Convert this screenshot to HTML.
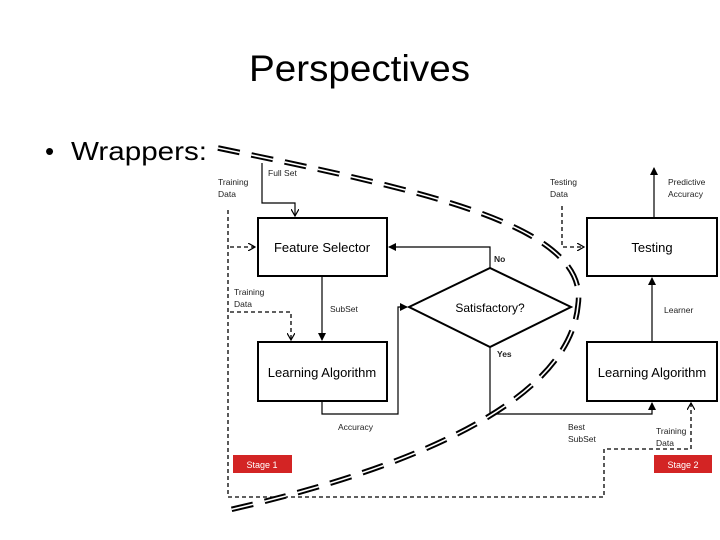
<!DOCTYPE html>
<html><head><meta charset="utf-8"><style>
html,body{margin:0;padding:0;background:#fff;}
svg{display:block;font-family:"Liberation Sans",sans-serif;}
</style></head><body>
<svg width="720" height="540" viewBox="0 0 720 540" xmlns="http://www.w3.org/2000/svg">
<defs>
<marker id="a" markerWidth="8" markerHeight="8" refX="7" refY="4" orient="auto" markerUnits="userSpaceOnUse">
<path d="M0,0 L8,4 L0,8 z" fill="#000"/></marker>
<marker id="o" markerWidth="8" markerHeight="8" refX="7" refY="4" orient="auto" markerUnits="userSpaceOnUse">
<path d="M0,0 L7,4 L0,8" fill="none" stroke="#000" stroke-width="1.2"/></marker>
</defs>
<text x="249" y="81" font-size="37" textLength="221" lengthAdjust="spacingAndGlyphs">Perspectives</text>
<text x="45" y="160" font-size="26">•</text>
<text x="71" y="160" font-size="26" textLength="136" lengthAdjust="spacingAndGlyphs">Wrappers:</text>

<!-- boxes -->
<g fill="#fff" stroke="#000" stroke-width="2">
<rect x="258" y="218" width="129" height="58"/>
<rect x="258" y="342" width="129" height="59"/>
<rect x="587" y="218" width="130" height="58"/>
<rect x="587" y="342" width="130" height="59"/>
<polygon points="409,307 490,268 571,307 490,347"/>
</g>
<g font-size="13" text-anchor="middle">
<text x="322" y="252">Feature Selector</text>
<text x="322" y="377">Learning Algorithm</text>
<text x="652" y="252">Testing</text>
<text x="652" y="377">Learning Algorithm</text>
<text x="490" y="312" font-size="12">Satisfactory?</text>
</g>

<!-- solid connectors -->
<g fill="none" stroke="#000" stroke-width="1.2">
<path d="M262,163 V203 H295 V216" marker-end="url(#o)"/>
<path d="M322,276 V340" marker-end="url(#a)"/>
<path d="M322,401 V414 H398 V307 H407" marker-end="url(#a)"/>
<path d="M490,268 V247 H389" marker-end="url(#a)"/>
<path d="M490,347 V414 H652 V403" marker-end="url(#a)"/>
<path d="M652,342 V278" marker-end="url(#a)"/>
<path d="M654,218 V168" marker-end="url(#a)"/>
</g>
<!-- dashed connectors -->
<g fill="none" stroke="#000" stroke-width="1.3" stroke-dasharray="4,3">
<path d="M228,210 V497 H604 V449 H691 V403" marker-end="url(#o)"/>
<path d="M230,247 H255" marker-end="url(#o)"/>
<path d="M230,312 H291 V340" marker-end="url(#o)"/>
<path d="M562,206 V247 H584" marker-end="url(#o)"/>
</g>

<!-- small labels -->
<g font-size="8.5" fill="#222">
<text x="268" y="176">Full Set</text>
<text x="218" y="185">Training</text><text x="218" y="197">Data</text>
<text x="234" y="295">Training</text><text x="234" y="307">Data</text>
<text x="330" y="312">SubSet</text>
<text x="338" y="430">Accuracy</text>
<text x="550" y="185">Testing</text><text x="550" y="197">Data</text>
<text x="668" y="185">Predictive</text><text x="668" y="197">Accuracy</text>
<text x="664" y="313">Learner</text>
<text x="568" y="430">Best</text><text x="568" y="442">SubSet</text>
<text x="656" y="434">Training</text><text x="656" y="446">Data</text>
<text x="494" y="262" font-weight="bold">No</text>
<text x="497" y="357" font-weight="bold">Yes</text>
</g>

<!-- stages -->
<rect x="233" y="455" width="59" height="18" fill="#d32424"/>
<text x="262" y="468" font-size="9" fill="#fff" text-anchor="middle">Stage 1</text>
<rect x="654" y="455" width="58" height="18" fill="#d32424"/>
<text x="683" y="468" font-size="9" fill="#fff" text-anchor="middle">Stage 2</text>

<!-- double dashed wrapper curve -->
<path d="M218,148 C420,190 590,225 578,305 C570,395 430,465 220,512" fill="none" stroke="#000" stroke-width="5.5" stroke-dasharray="22,12"/>
<path d="M218,148 C420,190 590,225 578,305 C570,395 430,465 220,512" fill="none" stroke="#fff" stroke-width="1.6" stroke-dasharray="22,12"/>
</svg>
</body></html>
